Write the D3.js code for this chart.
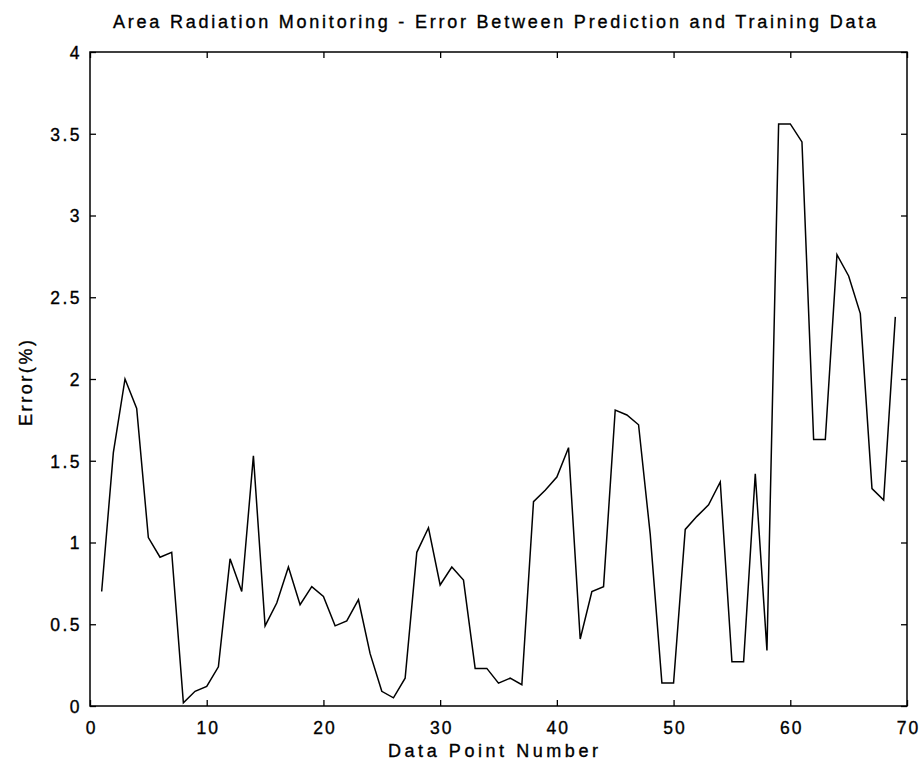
<!DOCTYPE html>
<html>
<head>
<meta charset="utf-8">
<script src="https://cdn.jsdelivr.net/npm/d3@7"></script>
<style>
  html, body { margin: 0; padding: 0; background: #fff; }
  text { font-family: Arial, "Liberation Sans", sans-serif; fill: #000; stroke: #000; stroke-width: 0.35px; }
</style>
</head>
<body>
<svg id="chart" width="923" height="775"></svg>
<script>
const titleText = "Area Radiation Monitoring - Error Between Prediction and Training Data";
const xLabel = "Data Point Number";
const yLabel = "Error(%)";
const xTicks = [0, 10, 20, 30, 40, 50, 60, 70];
const yTicks = [0, 0.5, 1, 1.5, 2, 2.5, 3, 3.5, 4];
const yTickLabels = ["0", "0.5", "1", "1.5", "2", "2.5", "3", "3.5", "4"];
const pointNumbers = d3.range(1, 70);
const errorValues = [
  0.70, 1.55, 2.00, 1.82, 1.03, 0.91, 0.94, 0.02, 0.09, 0.12,
  0.24, 0.90, 0.70, 1.53, 0.49, 0.63, 0.85, 0.62, 0.73, 0.67,
  0.49, 0.52, 0.65, 0.32, 0.09, 0.05, 0.17, 0.94, 1.09, 0.74,
  0.85, 0.77, 0.23, 0.23, 0.14, 0.17, 0.13, 1.25, 1.32, 1.40,
  1.58, 0.41, 0.70, 0.73, 1.81, 1.78, 1.72, 1.05, 0.14, 0.14,
  1.08, 1.16, 1.23, 1.37, 0.27, 0.27, 1.42, 0.34, 3.56, 3.56,
  3.45, 1.63, 1.63, 2.76, 2.63, 2.40, 1.33, 1.26, 2.38
];

(function () {
const svg = d3.select("#chart");
const mLeft = 90, mRight = 907, mTop = 52, mBottom = 706;

const x = d3.scaleLinear().domain([0, 70]).range([mLeft, mRight]);
const y = d3.scaleLinear().domain([0, 4]).range([mBottom, mTop]);

const tickLen = 6;

// frame
svg.append("rect")
  .attr("x", mLeft).attr("y", mTop)
  .attr("width", mRight - mLeft).attr("height", mBottom - mTop)
  .attr("fill", "none").attr("stroke", "#000").attr("stroke-width", 1.5);

// bottom axis (ticks inward)
const xAxisB = d3.axisBottom(x).tickValues(xTicks).tickSizeInner(-tickLen).tickSizeOuter(0).tickPadding(16).tickFormat(d3.format("d"));
const gxb = svg.append("g").attr("transform", `translate(0,${mBottom})`).call(xAxisB);
gxb.select(".domain").remove();
gxb.selectAll("line").attr("stroke", "#000").attr("stroke-width", 1.3);
gxb.selectAll("text").attr("font-size", 17.5).attr("letter-spacing", 2).attr("dx", 1).attr("dy", "0.71em");

// top axis ticks
const xAxisT = d3.axisTop(x).tickValues(xTicks).tickSizeInner(-tickLen).tickSizeOuter(0).tickFormat("");
const gxt = svg.append("g").attr("transform", `translate(0,${mTop})`).call(xAxisT);
gxt.select(".domain").remove();
gxt.selectAll("line").attr("stroke", "#000").attr("stroke-width", 1.3);

// left axis
const yAxisL = d3.axisLeft(y).tickValues(yTicks).tickSizeInner(-tickLen).tickSizeOuter(0).tickPadding(8)
  .tickFormat((d, i) => yTickLabels[i]);
const gyl = svg.append("g").attr("transform", `translate(${mLeft},0)`).call(yAxisL);
gyl.select(".domain").remove();
gyl.selectAll("line").attr("stroke", "#000").attr("stroke-width", 1.3);
gyl.selectAll("text").attr("font-size", 17.5).attr("letter-spacing", 2.5).attr("dy", "0.36em");

// right axis ticks
const yAxisR = d3.axisRight(y).tickValues(yTicks).tickSizeInner(-tickLen).tickSizeOuter(0).tickFormat("");
const gyr = svg.append("g").attr("transform", `translate(${mRight},0)`).call(yAxisR);
gyr.select(".domain").remove();
gyr.selectAll("line").attr("stroke", "#000").attr("stroke-width", 1.3);

// data line
const line = d3.line().x((d, i) => x(pointNumbers[i])).y(d => y(d));
svg.append("path")
  .datum(errorValues)
  .attr("d", line)
  .attr("fill", "none")
  .attr("stroke", "#000")
  .attr("stroke-width", 1.5)
  .attr("stroke-linejoin", "miter");

// title
svg.append("text")
  .attr("x", 494.5).attr("y", 27.5)
  .attr("text-anchor", "middle")
  .attr("font-size", 18)
  .attr("textLength", 763).attr("lengthAdjust", "spacing")
  .text(titleText);

// x label
svg.append("text")
  .attr("x", 493).attr("y", 757)
  .attr("text-anchor", "middle")
  .attr("font-size", 18)
  .attr("textLength", 210).attr("lengthAdjust", "spacing")
  .text(xLabel);

// y label
svg.append("text")
  .attr("transform", "translate(32,383) rotate(-90)")
  .attr("text-anchor", "middle")
  .attr("font-size", 18)
  .attr("textLength", 86).attr("lengthAdjust", "spacing")
  .text(yLabel);
})();
</script>
</body>
</html>
